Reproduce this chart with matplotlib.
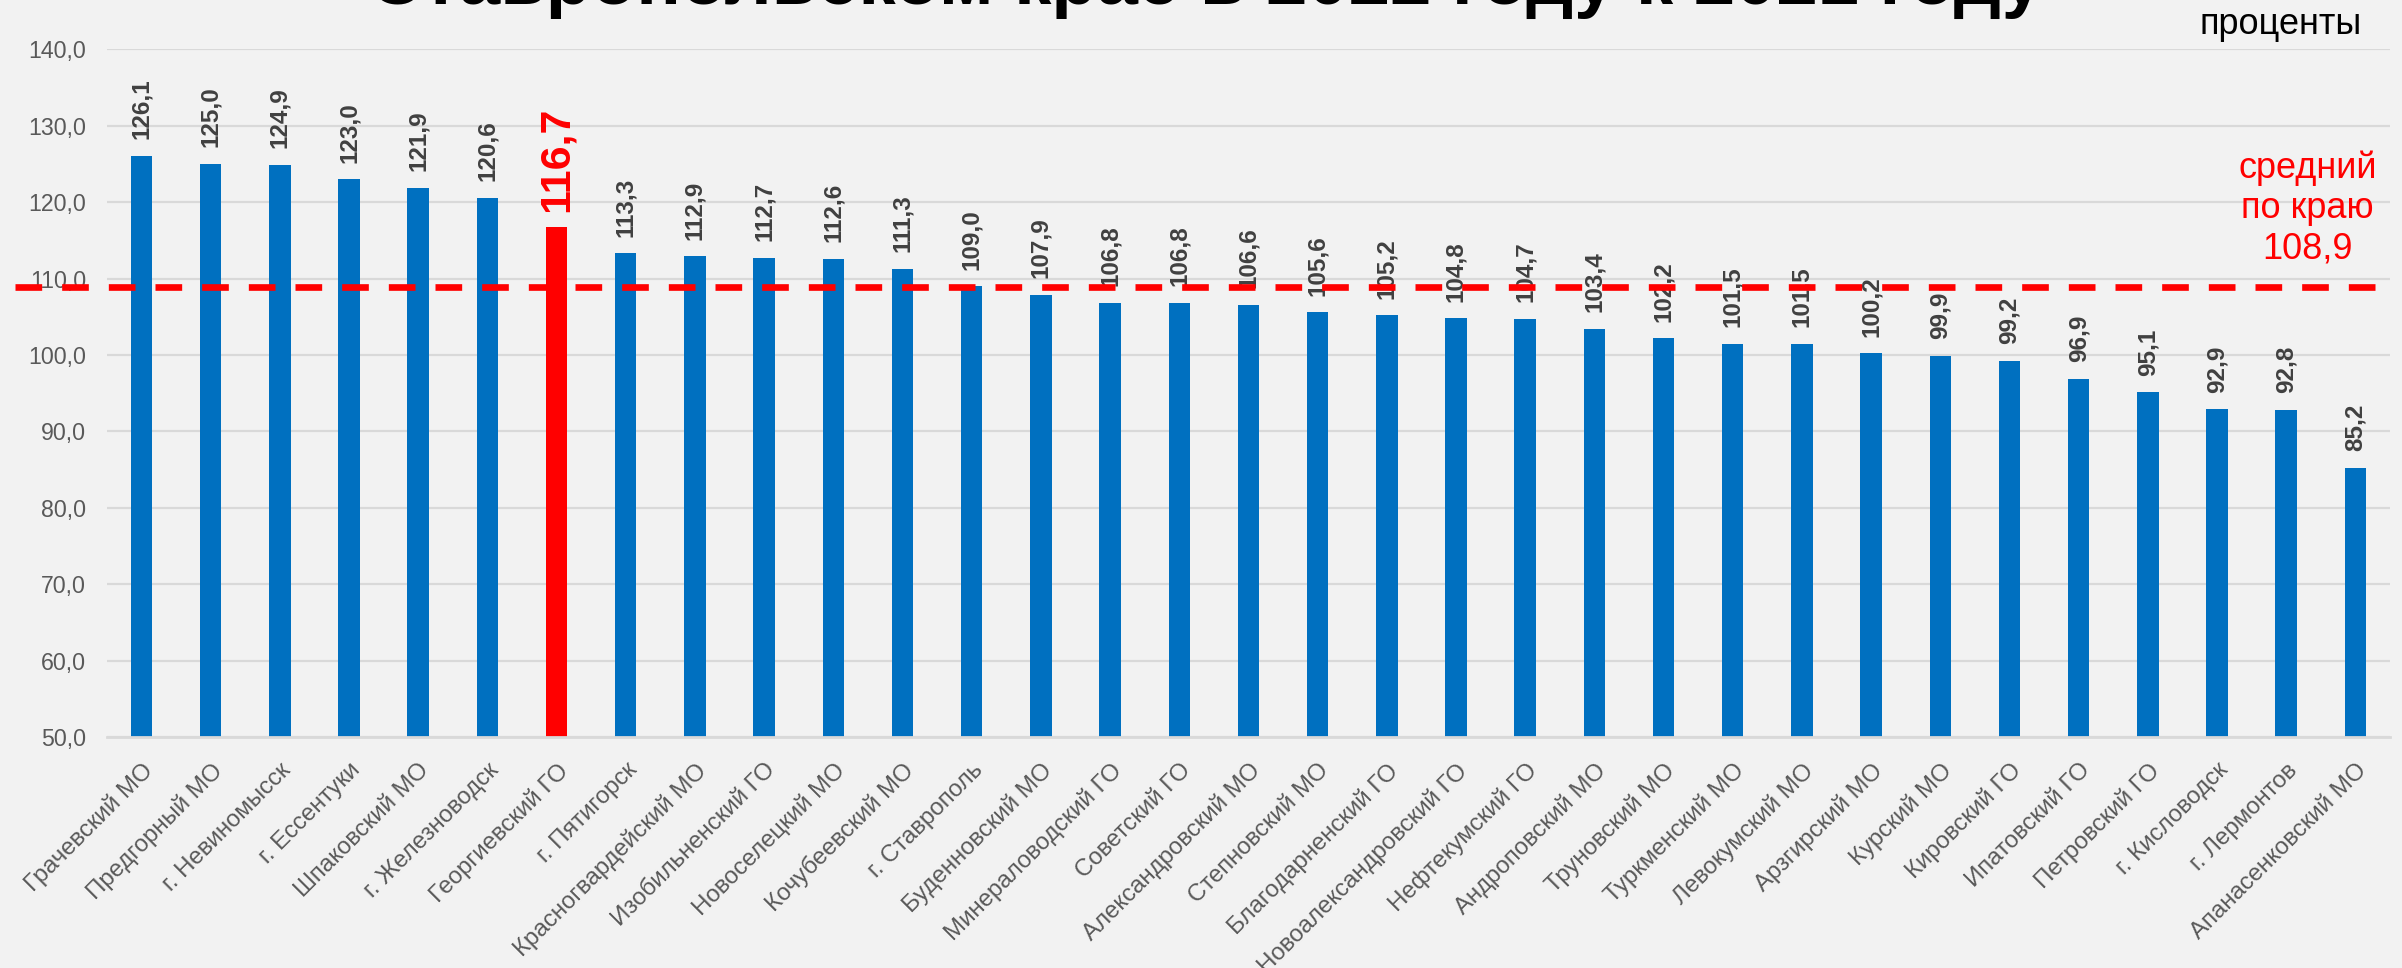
import matplotlib
matplotlib.use('Agg')
import matplotlib.pyplot as plt
import numpy as np

plt.rcParams['font.family'] = ['Liberation Sans', 'DejaVu Sans']

# data
names = ['Грачевский МО', 'Предгорный МО', 'г. Невиномысск', 'г. Ессентуки',
         'Шпаковский МО', 'г. Железноводск', 'Георгиевский ГО', 'г. Пятигорск',
         'Красногвардейский МО', 'Изобильненский ГО', 'Новоселецкий МО',
         'Кочубеевский МО', 'г. Ставрополь', 'Буденновский МО',
         'Минераловодский ГО', 'Советский ГО', 'Александровский МО',
         'Степновский МО', 'Благодарненский ГО', 'Новоалександровский ГО',
         'Нефтекумский ГО', 'Андроповский МО', 'Труновский МО', 'Туркменский МО',
         'Левокумский МО', 'Арзгирский МО', 'Курский МО', 'Кировский ГО',
         'Ипатовский ГО', 'Петровский ГО', 'г. Кисловодск', 'г. Лермонтов',
         'Апанасенковский МО']
values = [126.1, 125.0, 124.9, 123.0, 121.9, 120.6, 116.7, 113.3, 112.9, 112.7,
          112.6, 111.3, 109.0, 107.9, 106.8, 106.8, 106.6, 105.6, 105.2, 104.8,
          104.7, 103.4, 102.2, 101.5, 101.5, 100.2, 99.9, 99.2, 96.9, 95.1,
          92.9, 92.8, 85.2]
highlight = 'Георгиевский ГО'
mean_value = 108.9
yticks = [50, 60, 70, 80, 90, 100, 110, 120, 130, 140]

title = 'Ставропольском крае в 2022 году к 2021 году'
unit = 'проценты'

def fmt(v):
    return ('%.1f' % v).replace('.', ',')

bg = '#F2F2F2'
fig = plt.figure(figsize=(24.02, 9.68), dpi=100, facecolor=bg)
ax = fig.add_axes([0.0445, 0.2386, 0.9505, 0.7104], facecolor=bg)

x = np.arange(len(names))
colors = ['#FF0000' if n == highlight else '#0070C0' for n in names]
ax.bar(x, values, width=0.31, color=colors, zorder=2)

ax.set_xlim(-0.5, len(names) - 0.5)
ax.set_ylim(50, 140)
ax.set_yticks(yticks)
ax.set_yticklabels([fmt(t) for t in yticks])
ax.yaxis.grid(True, color='#D9D9D9', lw=1.6, zorder=0)
ax.set_axisbelow(True)
for s in ['top', 'right', 'left']:
    ax.spines[s].set_visible(False)
ax.spines['bottom'].set_color('#D9D9D9')
ax.spines['bottom'].set_linewidth(2)
ax.tick_params(axis='both', length=0, labelsize=16.7, labelcolor='#595959')
ax.tick_params(axis='y', pad=15)
ax.tick_params(axis='x', pad=16)

ax.set_xticks(x)
ax.set_xticklabels(names, rotation=45, ha='right', va='top',
                   rotation_mode='anchor', fontsize=17.3)

# data labels
for xi, v, n in zip(x, values, names):
    if n == highlight:
        ax.annotate(fmt(v), (xi, v), xytext=(0, 11), textcoords='offset points',
                    rotation=90, ha='center', va='bottom', fontsize=31,
                    fontweight='bold', color='#FF0000', zorder=3)
    else:
        ax.annotate(fmt(v), (xi, v), xytext=(0, 12), textcoords='offset points',
                    rotation=90, ha='center', va='bottom', fontsize=17.5,
                    fontweight='bold', color='#404040', zorder=3)

# average line
ax.axhline(mean_value, xmin=-0.0403, xmax=0.9956, color='#FF0000', lw=4.8,
           dashes=(4, 3), clip_on=False, zorder=5)
ax.text(0.964, 0.769, 'средний\nпо краю\n' + fmt(mean_value), transform=ax.transAxes,
        ha='center', va='center', multialignment='center', fontsize=26,
        color='#FF0000', linespacing=1.2)

fig.text(0.9495, 1 - 25 / 968, unit, ha='center', va='center', fontsize=26,
         color='black')
fig.text(0.502, 1 - 4 / 968, title, ha='center', va='baseline', fontsize=53.5,
         fontweight='bold', color='black')

fig.savefig('out.png', dpi=100, facecolor=bg)
